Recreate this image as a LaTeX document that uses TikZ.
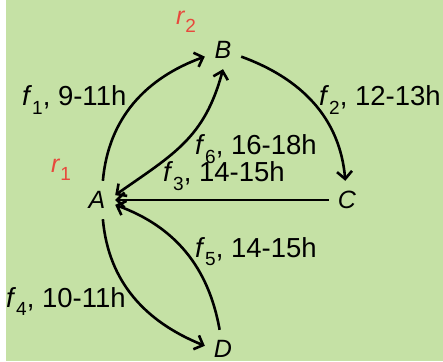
\documentclass[tikz,border=0pt]{standalone}
\usepackage{fontspec}
\setmainfont{Liberation Sans}
\usetikzlibrary{arrows.meta}
\definecolor{bg}{RGB}{197,225,165}
\definecolor{rred}{RGB}{232,72,60}
\newcommand\flab[2]{\textit{f}\raisebox{-0.3em}{\fontsize{19}{21}\selectfont #1}, #2}
\newcommand\rlab[1]{\textit{r}\raisebox{-0.3em}{\fontsize{19}{21}\selectfont #1}}
\begin{document}
\begin{tikzpicture}[x=1pt,y=1pt,
  vert/.style={font=\fontsize{25}{28}\selectfont\itshape, minimum width=36pt, minimum height=38pt, inner sep=0pt},
  elab/.style={font=\fontsize{27.5}{31}\selectfont, anchor=base west, inner sep=0pt},
  rl/.style={font=\fontsize{25}{28}\selectfont, text=rred, anchor=base west, inner sep=0pt},
  conn/.style={line width=2.6pt, -{Straight Barb[length=7.5pt,width=15pt]}},
  conn2/.style={line width=2.6pt, {Straight Barb[length=7.5pt,width=15pt]}-{Straight Barb[length=7.5pt,width=15pt]}}]
\useasboundingbox (0,0) rectangle (443,361);
\fill[bg] (6,0) rectangle (443,361);
\node[vert] (A) at (97,161) {A};
\node[vert] (B) at (223,311) {B};
\node[vert] (C) at (347,161) {C};
\node[vert] (D) at (223,12) {D};
\node[rl] (r1) at (51,188) {\rlab{1}};
\node[rl] (r2) at (176,336) {\rlab{2}};
\draw[conn] (A.73) to[out=85,in=200] (B.200);
\draw[conn2] (A.15) to[out=35,in=-105,looseness=1.1] (B.south);
\draw[conn] (B.-20) to[out=-20,in=95] (C.95);
\draw[conn] (C.west) -- (A.east);
\draw[conn] (A.-73) to[out=-85,in=158] (D.170);
\draw[conn] (D.100) to[out=100,in=-20] (A.-15);
\node[elab] (l1) at (22,255) {\flab{1}{9-11h}};
\node[elab] (l2) at (319,255) {\flab{2}{12-13h}};
\node[elab] (l6) at (195,206) {\flab{6}{16-18h}};
\node[elab] (l3) at (163,179) {\flab{3}{14-15h}};
\node[elab] (l5) at (195,104) {\flab{5}{14-15h}};
\node[elab] (l4) at (6,54) {\flab{4}{10-11h}};
\end{tikzpicture}
\end{document}
